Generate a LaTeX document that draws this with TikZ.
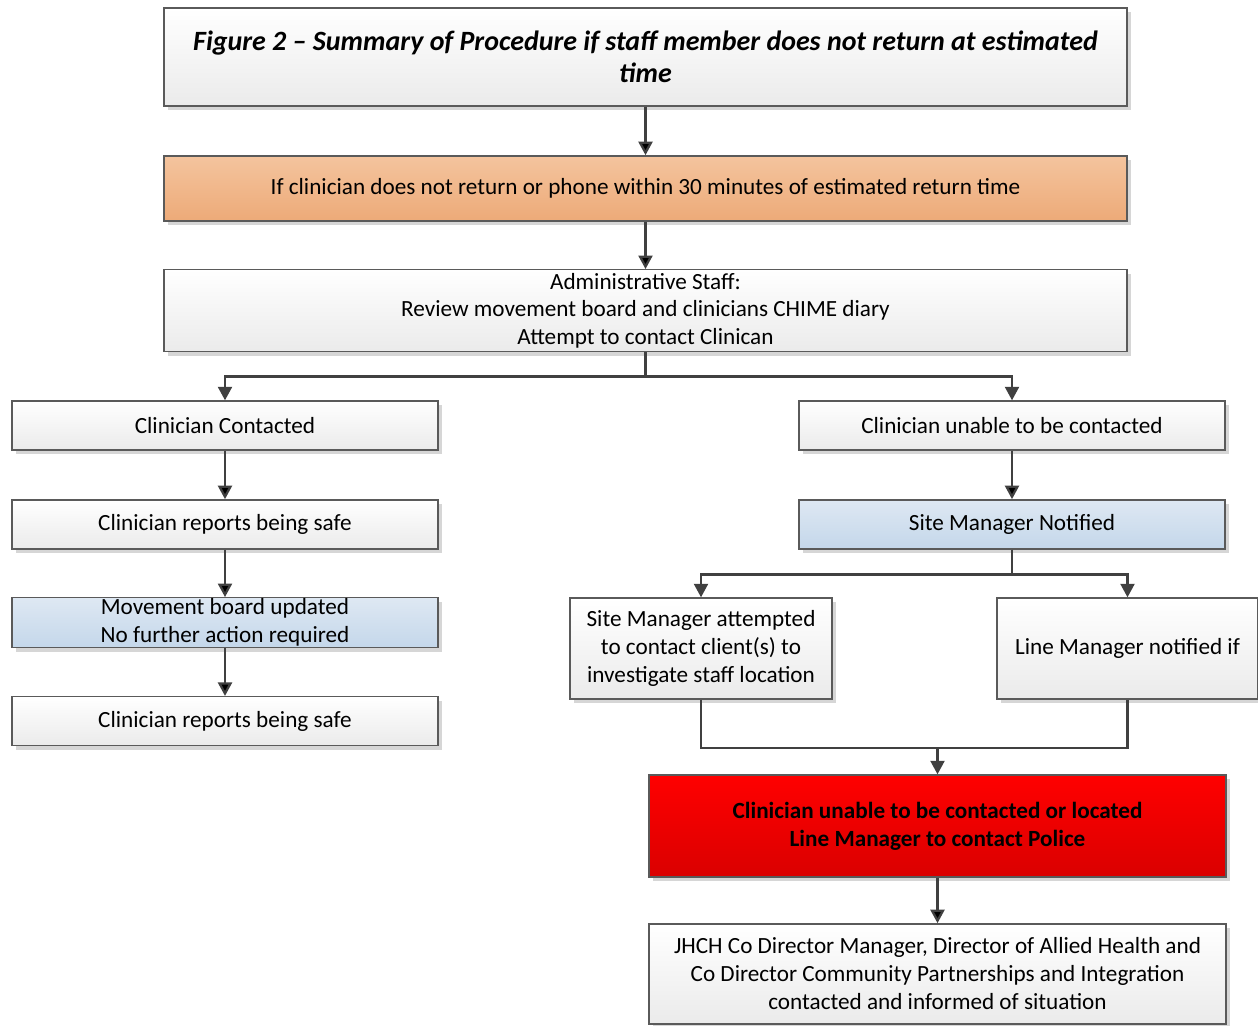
\documentclass[tikz,border=0pt]{standalone}
\usepackage{fontspec}
\setmainfont{Carlito}
\usetikzlibrary{arrows.meta,positioning,shadows}

\definecolor{boxline}{RGB}{90,90,90}
\definecolor{linkgray}{RGB}{64,64,64}
\definecolor{orangetop}{RGB}{244,196,158}
\definecolor{orangebot}{RGB}{237,170,120}
\definecolor{bluetop}{RGB}{222,232,243}
\definecolor{bluebot}{RGB}{196,215,234}
\definecolor{redtop}{RGB}{255,0,0}
\definecolor{redbot}{RGB}{218,0,0}

\begin{document}
\begin{tikzpicture}[x=0.02cm,y=-0.02cm,>={Triangle[length=0.27cm,width=0.28cm]},
            node distance=0.97cm]
            \tikzstyle{stepbox}=[rectangle, draw=boxline, line width=0.8pt,
                top color=white, bottom color=black!8, inner sep=0pt, align=center,
                drop shadow={shadow xshift=0.08cm, shadow yshift=-0.08cm, fill=black!16, opacity=1},
                font=\fontsize{13.2}{15.9}\selectfont]
            \tikzstyle{wide}=[stepbox, minimum width=19.26cm]
            \tikzstyle{side}=[stepbox, minimum width=8.52cm, minimum height=0.98cm]
            \tikzstyle{orangebox}=[top color=orangetop, bottom color=orangebot]
            \tikzstyle{bluebox}=[top color=bluetop, bottom color=bluebot]
            \tikzstyle{redbox}=[top color=redtop, bottom color=redbot]
            \tikzstyle{link}=[draw=linkgray, line width=1.3pt]

            \useasboundingbox (0,0) rectangle (1258,1026);
            \clip (0,0) rectangle (1258,1026);

            % main column
            \node[wide, minimum height=1.96cm, font=\fontsize{15.9}{18.2}\selectfont\bfseries\itshape]
                (title) at (645.5,57) {Figure 2 – Summary of Procedure if staff member does not return at estimated\\time};
            \node[wide, orangebox, minimum height=1.3cm] (trigger) [below=of title]
                {If clinician does not return or phone within 30 minutes of estimated return time};
            \node[wide, minimum height=1.64cm] (admin) [below=0.95cm of trigger]
                {Administrative Staff:\\Review movement board and clinicians CHIME diary\\Attempt to contact Clinican};

            % left branch
            \node[side] (contacted) at (225,425.5) {Clinician Contacted};
            \node[side] (safe) [below=of contacted] {Clinician reports being safe};
            \node[side, bluebox, minimum height=1cm] (updated) [below=0.95cm of safe]
                {Movement board updated\\No further action required};
            \node[side] (safe2) [below=0.95cm of updated] {Clinician reports being safe};

            % right branch
            \node[side] (unable) at (1012,425.5) {Clinician unable to be contacted};
            \node[side, bluebox] (notified) [below=of unable] {Site Manager Notified};
            \node[stepbox, minimum width=5.24cm, minimum height=2.02cm] (attempt) at (701,648.5)
                {Site Manager attempted\\to contact client(s) to\\investigate staff location};
            \node[stepbox, minimum width=5.22cm, minimum height=2.02cm] (linemgr) at (1127.5,648.5)
                {Line Manager notified if};
            \node[stepbox, redbox, minimum width=11.54cm, minimum height=2.04cm,
                font=\fontsize{13.2}{15.9}\selectfont\bfseries] (police) at (937.5,826)
                {Clinician unable to be contacted or located\\Line Manager to contact Police};
            \node[stepbox, minimum width=11.54cm, minimum height=2cm] (directors) [below=0.91cm of police]
                {JHCH Co Director Manager, Director of Allied Health and\\Co Director Community Partnerships and Integration\\contacted and informed of situation};

            \coordinate (join) at (937.5,748);

            \path[link,->]
                (title)     edge (trigger)
                (trigger)   edge (admin)
                (contacted) edge (safe)
                (safe)      edge (updated)
                (updated)   edge (safe2)
                (unable)    edge (notified)
                (police)    edge (directors)
                ;

            % splits and merge
            \draw[link,->] (admin.south) -- ++(0,24) -| (contacted.north);
            \draw[link,->] (admin.south) -- ++(0,24) -| (unable.north);
            \draw[link,->] (notified.south) -- ++(0,25) -| (attempt.north);
            \draw[link,->] (notified.south) -- ++(0,25) -| (linemgr.north);
            \draw[link] (attempt.south) |- (join) -| (linemgr.south);
            \draw[link,->] (join) -- (police.north);
\end{tikzpicture}
\end{document}
